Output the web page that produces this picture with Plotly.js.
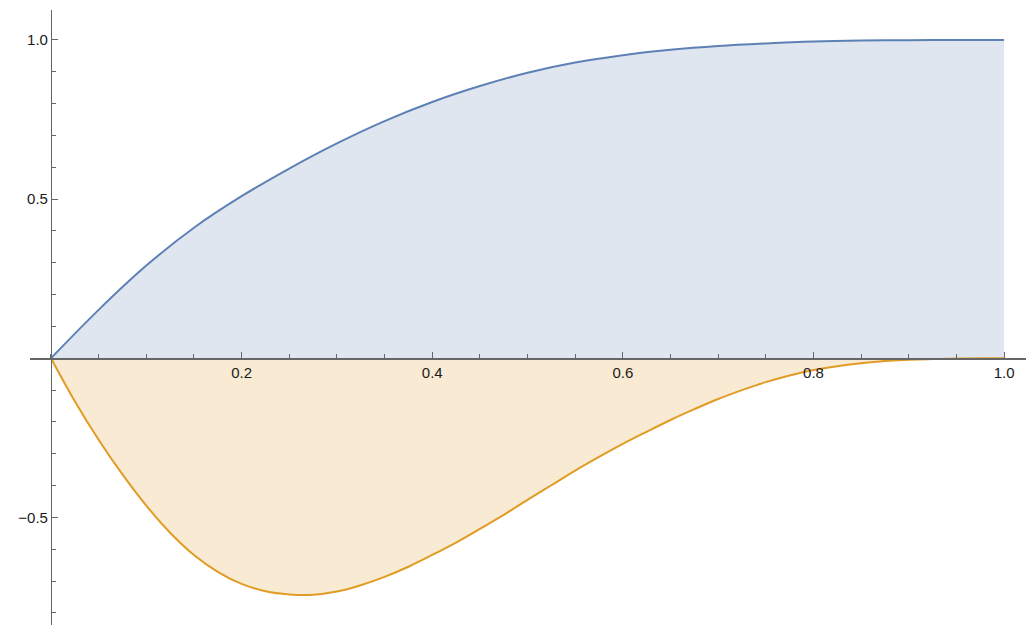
<!DOCTYPE html>
<html>
<head>
<meta charset="utf-8">
<script src="https://cdn.plot.ly/plotly-3.0.1.min.js"></script>
<style>
  html, body { margin: 0; padding: 0; background: #fff; }
  #chart { width: 1035px; height: 643px; }
</style>
</head>
<body>
<div id="chart"></div>
<script>
// values
const blueX = [0, 0.05, 0.1, 0.15, 0.2, 0.25, 0.3, 0.35, 0.4, 0.45, 0.5,
  0.55, 0.6, 0.65, 0.7, 0.75, 0.8, 0.85, 0.9, 0.95, 1.0];
const blueY = [0, 0.152, 0.291, 0.410, 0.509, 0.596, 0.675, 0.745, 0.805, 0.855, 0.897,
  0.929, 0.952, 0.969, 0.981, 0.989, 0.995, 0.998, 0.999, 1.0, 1.0];

const orangeX = [0, 0.025, 0.05, 0.075, 0.1, 0.125, 0.15, 0.175, 0.2, 0.225, 0.25, 0.275, 0.3, 0.325,
  0.35, 0.375, 0.4, 0.425, 0.45, 0.475, 0.5, 0.525, 0.55, 0.575, 0.6, 0.625, 0.65, 0.675, 0.7, 0.725,
  0.75, 0.775, 0.8, 0.825, 0.85, 0.875, 0.9, 0.925, 0.95, 0.975, 1.0];
const orangeY = [0, -0.135, -0.256, -0.365, -0.463, -0.548, -0.618, -0.671, -0.709, -0.732, -0.742, -0.743,
  -0.733, -0.713, -0.687, -0.655, -0.618, -0.579, -0.536, -0.492, -0.445, -0.399, -0.353, -0.310, -0.269,
  -0.231, -0.194, -0.160, -0.128, -0.100, -0.075, -0.054, -0.037, -0.025, -0.016, -0.009, -0.005, -0.002,
  -0.001, 0, 0];

const xTickVals = [0.2, 0.4, 0.6, 0.8, 1.0];
const xTickText = ['0.2', '0.4', '0.6', '0.8', '1.0'];
const yTickVals = [-0.5, 0.5, 1.0];
const yTickText = ['\u22120.5', '0.5', '1.0'];

const xRange = [-0.022, 1.023];
const yRange = [-0.838, 1.094];

const blue = '#5E81B5';
const orange = '#E09C24';
const axisColor = '#666';

// minor tick positions, every 0.05 on x and 0.1 on y
function steps(from, to, step) {
  const out = [];
  for (let i = Math.round(from / step); i * step <= to + 1e-9; i++) {
    out.push(+(i * step).toFixed(4));
  }
  return out;
}

const tickFont = {family: 'Liberation Sans, Arial, sans-serif', size: 15, color: '#1a1a1a'};

const traces = [{
  type: 'scatter',
  mode: 'lines',
  x: blueX,
  y: blueY,
  fill: 'tozeroy',
  fillcolor: 'rgba(94,129,181,0.2)',
  line: {color: blue, width: 2, shape: 'spline', smoothing: 1},
  hoverinfo: 'skip',
}, {
  type: 'scatter',
  mode: 'lines',
  x: orangeX,
  y: orangeY,
  fill: 'tozeroy',
  fillcolor: 'rgba(224,156,36,0.2)',
  line: {color: orange, width: 2, shape: 'spline', smoothing: 1},
  hoverinfo: 'skip',
}];

const axisCommon = {
  showgrid: false,
  zeroline: false,
  showline: true,
  linecolor: axisColor,
  linewidth: 1.3,
  ticks: 'inside',
  ticklen: 6,
  tickwidth: 1,
  tickcolor: axisColor,
  tickfont: tickFont,
  tickmode: 'array',
  anchor: 'free',
};

const layout = {
  width: 1035,
  height: 643,
  margin: {l: 30, r: 9, t: 10, b: 18},
  paper_bgcolor: '#fff',
  plot_bgcolor: '#fff',
  showlegend: false,
  xaxis: Object.assign({}, axisCommon, {
    range: xRange,
    tickvals: xTickVals,
    ticktext: xTickText,
    position: (0 - yRange[0]) / (yRange[1] - yRange[0]),
    minor: {tickmode: 'array', tickvals: steps(0, 1, 0.05), ticks: 'inside', ticklen: 4, tickcolor: axisColor, tickwidth: 1, showgrid: false},
  }),
  yaxis: Object.assign({}, axisCommon, {
    range: yRange,
    tickvals: yTickVals,
    ticktext: yTickText,
    position: (0 - xRange[0]) / (xRange[1] - xRange[0]),
    minor: {tickmode: 'array', tickvals: steps(-0.8, 1, 0.1), ticks: 'inside', ticklen: 4, tickcolor: axisColor, tickwidth: 1, showgrid: false},
  }),
};

Plotly.newPlot('chart', traces, layout, {displayModeBar: false, staticPlot: true});
</script>
</body>
</html>
